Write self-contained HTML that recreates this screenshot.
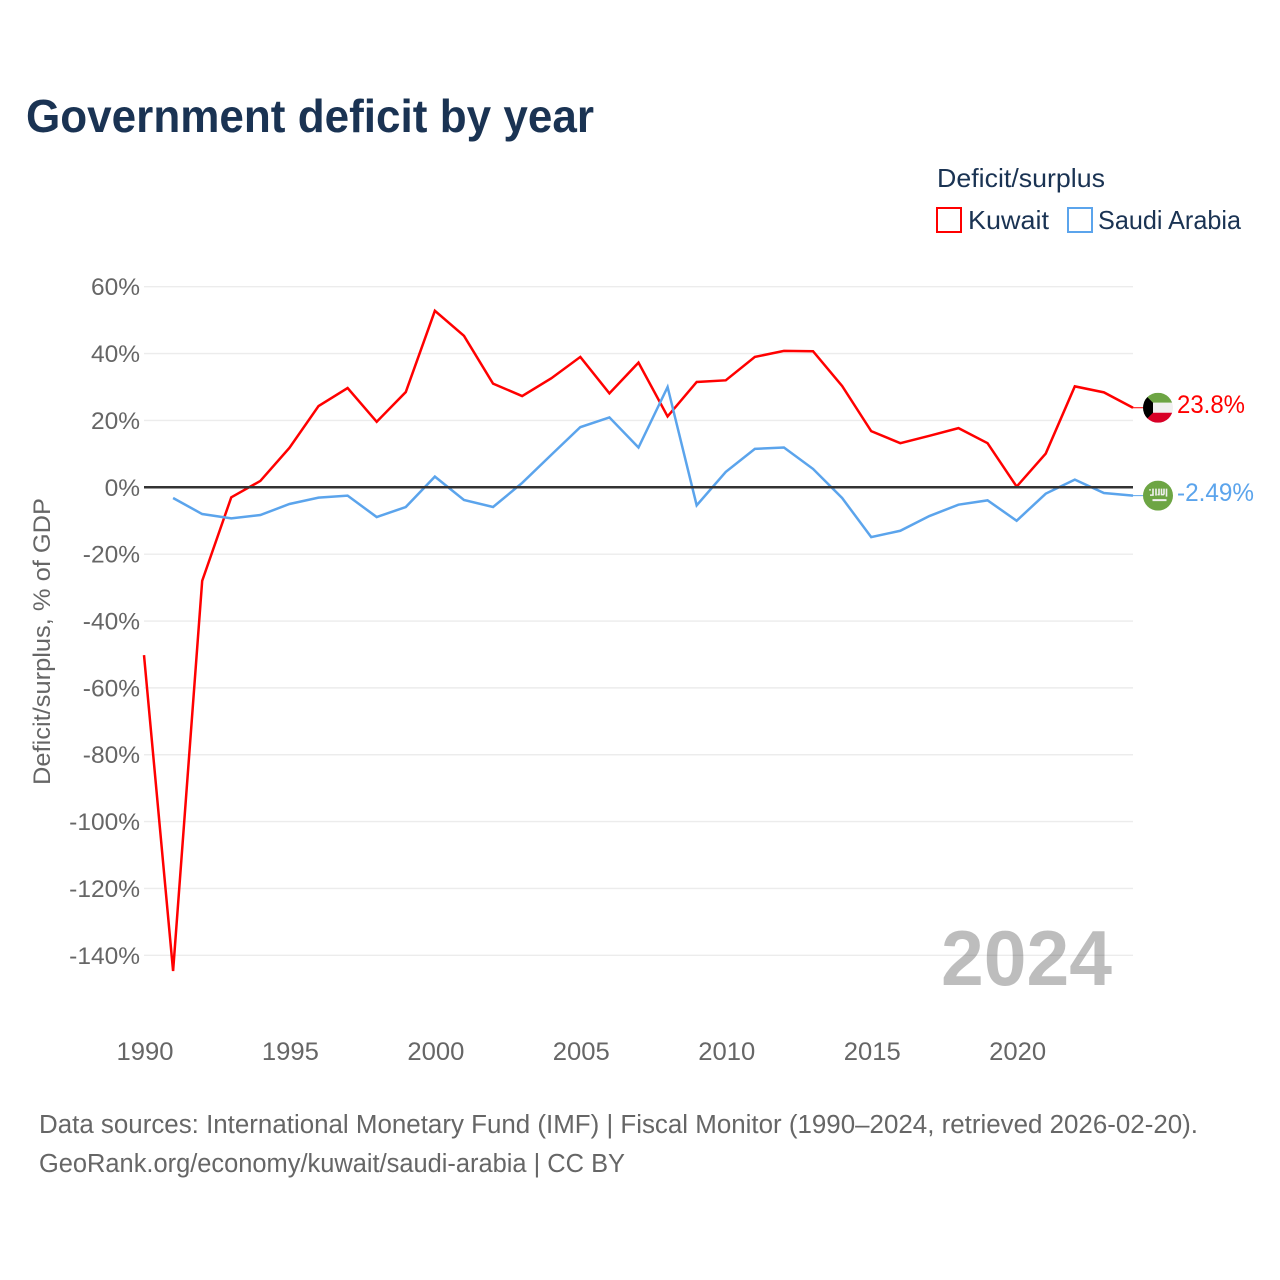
<!DOCTYPE html>
<html lang="en">
<head>
<meta charset="utf-8">
<title>Government deficit by year</title>
<style>
html,body{margin:0;padding:0;background:#fff;}
svg{display:block;font-family:"Liberation Sans",sans-serif;}
</style>
</head>
<body>
<svg id="chart" xmlns="http://www.w3.org/2000/svg" width="1280" height="1280" viewBox="0 0 1280 1280">
  <rect width="1280" height="1280" fill="#fff"/>
  <text x="26" y="132" font-size="46" font-weight="700" fill="#1a3353" textLength="568" lengthAdjust="spacingAndGlyphs">Government deficit by year</text>

  <text x="937" y="187" font-size="26" fill="#1a3353" textLength="168" lengthAdjust="spacingAndGlyphs">Deficit/surplus</text>
  <rect x="937" y="208" width="24" height="24" fill="#fff" stroke="#ff0000" stroke-width="2"/>
  <text x="968" y="229" font-size="26" fill="#1a3353" textLength="81" lengthAdjust="spacingAndGlyphs">Kuwait</text>
  <rect x="1068" y="208" width="24" height="24" fill="#fff" stroke="#5ba4ec" stroke-width="2"/>
  <text x="1098" y="229" font-size="26" fill="#1a3353" textLength="143" lengthAdjust="spacingAndGlyphs">Saudi Arabia</text>

  <text transform="translate(50,785) rotate(-90)" font-size="24.5" fill="#666" textLength="287" lengthAdjust="spacingAndGlyphs">Deficit/surplus, % of GDP</text>

  <g id="grid"></g>
  <g id="yticks"></g>
  <g id="xticks"></g>

  <text x="941" y="985" font-size="78" font-weight="700" fill="#000" fill-opacity="0.26" textLength="171" lengthAdjust="spacingAndGlyphs">2024</text>

  <g id="series"></g>
  <g id="markers"></g>

  <text x="39" y="1133" font-size="25.5" fill="#666" textLength="1159" lengthAdjust="spacingAndGlyphs">Data sources: International Monetary Fund (IMF) | Fiscal Monitor (1990–2024, retrieved 2026-02-20).</text>
  <text x="39" y="1172" font-size="25.5" fill="#666" textLength="586" lengthAdjust="spacingAndGlyphs">GeoRank.org/economy/kuwait/saudi-arabia | CC BY</text>
</svg>
<script>
const years = [1990,1991,1992,1993,1994,1995,1996,1997,1998,1999,2000,2001,2002,2003,2004,2005,2006,2007,2008,2009,2010,2011,2012,2013,2014,2015,2016,2017,2018,2019,2020,2021,2022,2023,2024];
const kuwaitValues = [-50.2,-144.7,-28,-3,1.9,11.8,24.3,29.7,19.6,28.5,52.8,45.3,31,27.3,32.6,39,28.1,37.3,21.2,31.5,32,39,40.8,40.7,30.3,16.8,13.2,15.4,17.7,13.2,0.2,10.1,30.2,28.4,23.8];
const saudiValues = [null,-3.2,-8,-9.3,-8.3,-5,-3.1,-2.5,-8.9,-5.9,3.2,-3.8,-5.9,1.3,9.7,18,20.9,11.9,30,-5.4,4.6,11.5,11.9,5.5,-3.2,-14.9,-13,-8.6,-5.2,-3.9,-10,-1.9,2.3,-1.7,-2.49];
const yTickValues = [60,40,20,0,-20,-40,-60,-80,-100,-120,-140];
const xTickYears = [1990,1995,2000,2005,2010,2015,2020];
const kuwaitEndLabel = "23.8%";
const saudiEndLabel = "-2.49%";

const NS = "http://www.w3.org/2000/svg";
const X0 = 144, X1 = 1133, Y0 = 487.3, PER_UNIT = 3.343;
function xScale(year){ return X0 + (year - years[0]) * (X1 - X0) / (years[years.length-1] - years[0]); }
function yScale(v){ return Y0 - v * PER_UNIT; }
function make(tag, parent){ const el = document.createElementNS(NS, tag); parent.appendChild(el); return el; }
function pathFor(values){
  let d = "";
  values.forEach(function(v,i){
    if(v === null) return;
    d += (d ? "L" : "M") + xScale(years[i]).toFixed(2) + " " + yScale(v).toFixed(2);
  });
  return d;
}

const grid = document.getElementById("grid");
const yticks = document.getElementById("yticks");
yTickValues.forEach(function(v){
  if(v !== 0){
    const line = make("line", grid);
    
    
    line.setAttribute("x1", X0); line.setAttribute("x2", X1);
    line.setAttribute("y1", yScale(v)); line.setAttribute("y2", yScale(v));
    line.setAttribute("stroke", "#ececec"); line.setAttribute("stroke-width", "1.4");
  }
  const t = make("text", yticks);
  
  
  t.setAttribute("x", 140); t.setAttribute("y", yScale(v) + 8.5);
  t.setAttribute("text-anchor", "end"); t.setAttribute("font-size", "24.5"); t.setAttribute("fill", "#666");
  t.textContent = v + "%";
});

const xticks = document.getElementById("xticks");
xTickYears.forEach(function(y){
  const t = make("text", xticks);
  
  
  t.setAttribute("x", xScale(y) + 1); t.setAttribute("y", 1060);
  t.setAttribute("text-anchor", "middle"); t.setAttribute("font-size", "25"); t.setAttribute("fill", "#666");
  t.setAttribute("textLength", "57"); t.setAttribute("lengthAdjust", "spacingAndGlyphs");
  t.textContent = y;
});

const series = document.getElementById("series");
const kuwaitLine = make("path", series);


kuwaitLine.setAttribute("d", pathFor(kuwaitValues));
kuwaitLine.setAttribute("fill", "none"); kuwaitLine.setAttribute("stroke", "#ff0000");
kuwaitLine.setAttribute("stroke-width", "2.5"); kuwaitLine.setAttribute("stroke-linejoin", "miter");

const saudiLine = make("path", series);


saudiLine.setAttribute("d", pathFor(saudiValues));
saudiLine.setAttribute("fill", "none"); saudiLine.setAttribute("stroke", "#5ba4ec");
saudiLine.setAttribute("stroke-width", "2.5");

const zeroLine = make("line", series);


zeroLine.setAttribute("x1", X0); zeroLine.setAttribute("x2", X1);
zeroLine.setAttribute("y1", yScale(0)); zeroLine.setAttribute("y2", yScale(0));
zeroLine.setAttribute("stroke", "#333"); zeroLine.setAttribute("stroke-width", "2.5");

const markers = document.getElementById("markers");
const FX = 1158, R = 15;
const kuwaitEnd = yScale(kuwaitValues[kuwaitValues.length-1]);
const saudiEnd = yScale(saudiValues[saudiValues.length-1]);

const kStub = make("line", markers);


kStub.setAttribute("x1", X1); kStub.setAttribute("x2", FX - R); kStub.setAttribute("y1", kuwaitEnd); kStub.setAttribute("y2", kuwaitEnd);
kStub.setAttribute("stroke", "#ff0000"); kStub.setAttribute("stroke-width", "1");

const sStub = make("line", markers);


sStub.setAttribute("x1", X1); sStub.setAttribute("x2", FX - R); sStub.setAttribute("y1", saudiEnd); sStub.setAttribute("y2", saudiEnd);
sStub.setAttribute("stroke", "#5ba4ec"); sStub.setAttribute("stroke-width", "1");

const kFlag = make("svg", markers);


kFlag.setAttribute("x", FX - R); kFlag.setAttribute("y", kuwaitEnd - R);
kFlag.setAttribute("width", 2 * R); kFlag.setAttribute("height", 2 * R); kFlag.setAttribute("viewBox", "0 0 30 30");
kFlag.innerHTML = '<defs><clipPath id="kclip"><circle cx="15" cy="15" r="15"/></clipPath></defs><g clip-path="url(#kclip)"><rect width="30" height="10" fill="#6da544"/><rect y="10" width="30" height="10" fill="#f0f0f0"/><rect y="20" width="30" height="10" fill="#d80027"/><polygon points="0,0 0,30 10,20 10,10" fill="#000"/></g>';

const sFlag = make("svg", markers);


sFlag.setAttribute("x", FX - R); sFlag.setAttribute("y", saudiEnd - R);
sFlag.setAttribute("width", 2 * R); sFlag.setAttribute("height", 2 * R); sFlag.setAttribute("viewBox", "0 0 30 30");
sFlag.innerHTML = '<circle cx="15" cy="15" r="15" fill="#6da544"/><g fill="none" stroke="#f0f0f0" stroke-width="1.6"><path d="M7 8.500v1.500M10 8v6.500H7M13 8v7M16 8v6h-1.500M18.500 8v6h2.500M21 8v6M23.500 8v8"/></g><rect x="9.500" y="18.500" width="14" height="2" fill="#f0f0f0"/>';

const kLabel = make("text", markers);


kLabel.setAttribute("x", 1177); kLabel.setAttribute("y", kuwaitEnd + 5.500);
kLabel.setAttribute("font-size", "25"); kLabel.setAttribute("fill", "#ff0000");
kLabel.setAttribute("textLength", "68"); kLabel.setAttribute("lengthAdjust", "spacingAndGlyphs");
kLabel.textContent = kuwaitEndLabel;

const sLabel = make("text", markers);


sLabel.setAttribute("x", 1177); sLabel.setAttribute("y", saudiEnd + 5.500);
sLabel.setAttribute("font-size", "25"); sLabel.setAttribute("fill", "#5ba4ec");
sLabel.setAttribute("textLength", "77"); sLabel.setAttribute("lengthAdjust", "spacingAndGlyphs");
sLabel.textContent = saudiEndLabel;
</script>
</body>
</html>
